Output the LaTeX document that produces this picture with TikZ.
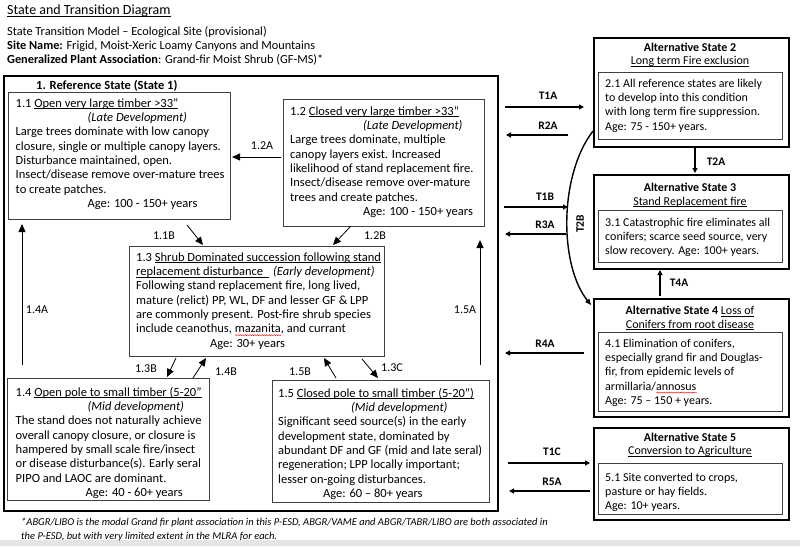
\documentclass[tikz,border=0pt]{standalone}
\usepackage{fontspec}
\setmainfont{Carlito}
\usetikzlibrary{arrows.meta,decorations.pathmorphing}
\newlength\ullen
\newcommand\ul[1]{\settowidth\ullen{#1}\rlap{\rule[-1.7pt]{\ullen}{0.6pt}}#1}
\newcommand\redwave[1]{\settowidth\ullen{#1}\rlap{\raisebox{-3.2pt}{\tikz\draw[red,line width=0.4pt,decorate,decoration={snake,amplitude=0.55pt,segment length=2.4pt}] (0pt,0pt) -- (\ullen,0pt);}}#1}
\tikzset{
  sbox/.style={draw=black, line width=2.4pt, inner sep=0pt, anchor=north west},
  ibox/.style={draw=black!75, line width=0.9pt, inner sep=0pt, anchor=north west},
  txt/.style={anchor=north west, inner sep=0pt, align=left, font=\fontsize{12.5}{14.3}\selectfont},
  rtxt/.style={anchor=north west, inner sep=0pt, align=left, font=\fontsize{12}{14.3}\selectfont},
  rhead/.style={inner sep=0pt, align=center, font=\fontsize{12}{13.6}\selectfont},
  lab/.style={inner sep=0pt, font=\fontsize{12}{14}\selectfont},
  tlab/.style={inner sep=0pt, font=\bfseries\fontsize{11.5}{13}\selectfont},
  parr/.style={line width=0.8pt, -{Triangle[length=8pt,width=7pt]}},
  tarr/.style={line width=1.8pt, -{Triangle[length=5pt,width=5pt]}},
}
\begin{document}
\begin{tikzpicture}[x=1pt,y=-1pt]
\useasboundingbox (0,0) rectangle (800,546);
\fill[white] (0,0) rectangle (800,546);
\fill[black!10] (0,540) rectangle (800,546);

% header
\node[anchor=west, inner sep=0pt, font=\fontsize{14}{16}\selectfont] (title) at (7,11) {\ul{State and Transition Diagram}};
\node[anchor=north west, inner sep=0pt, align=left, font=\fontsize{12.3}{14}\selectfont] (hdr) at (7,25)
  {\strut State Transition Model -- Ecological Site (provisional)\\
   \textbf{Site Name:} Frigid, Moist-Xeric Loamy Canyons and Mountains\\
   \textbf{Generalized Plant Association}: Grand-fir Moist Shrub (GF-MS)*};

% reference state
\node[sbox, minimum width=494pt, minimum height=435pt] (s1) at (3,75) {};
\node[anchor=west, inner sep=0pt, font=\bfseries\fontsize{12.5}{14}\selectfont] (s1t) at (36,86) {1. Reference State (State 1)};

\node[ibox, minimum width=222pt, minimum height=127pt] (b11) at (8,92) {};
\node[txt] (t11) at (15.5,97) {\strut 1.1 \ul{Open very large timber >33”}\\
\hspace*{72pt}\textit{(Late Development)}\\
Large trees dominate with low canopy\\
closure, single or multiple canopy layers.\\
Disturbance maintained, open.\\
Insect/disease remove over-mature trees\\
to create patches.\\
\hspace*{72pt}Age: 100 - 150+ years};

\node[ibox, minimum width=201pt, minimum height=127pt] (b12) at (283,99) {};
\node[txt] (t12) at (290,105) {\strut 1.2 \ul{Closed very large timber >33”}\\
\hspace*{73pt}\textit{(Late Development)}\\
Large trees dominate, multiple\\
canopy layers exist. Increased\\
likelihood of stand replacement fire.\\
Insect/disease remove over-mature\\
trees and create patches.\\
\hspace*{73pt}Age: 100 - 150+ years};

\node[ibox, minimum width=255pt, minimum height=110pt] (b13) at (129,246) {};
\node[txt] (t13) at (136,251) {\strut 1.3 \ul{Shrub Dominated succession following stand}\\
\makebox[137pt][l]{\ul{replacement disturbance\ \ }}\textit{(Early development)}\\
Following stand replacement fire, long lived,\\
mature (relict) PP, WL, DF and lesser GF \& LPP\\
are commonly present. Post-fire shrub species\\
include ceanothus, \redwave{mazanita}, and currant\\
\hspace*{74pt}Age: 30+ years};

\node[ibox, minimum width=202pt, minimum height=122pt] (b14) at (7,378) {};
\node[txt] (t14) at (15.5,386) {\strut 1.4 \ul{Open pole to small timber (5-20”}\\
\hspace*{72pt}\textit{(Mid development)}\\
The stand does not naturally achieve\\
overall canopy closure, or closure is\\
hampered by small scale fire/insect\\
or disease disturbance(s). Early seral\\
PIPO and LAOC are dominant.\\
\hspace*{70pt}Age: 40 - 60+ years};

\node[ibox, minimum width=217pt, minimum height=122pt] (b15) at (272,380) {};
\node[txt] (t15) at (278,387) {\strut 1.5 \ul{Closed pole to small timber (5-20”)}\\
\hspace*{73pt}\textit{(Mid development)}\\
Significant seed source(s) in the early\\
development state, dominated by\\
abundant DF and GF (mid and late seral)\\
regeneration; LPP locally important;\\
lesser on-going disturbances.\\
\hspace*{45pt}Age: 60 -- 80+ years};

% pathway arrows
\coordinate (p12a) at (281,157); \coordinate (p12b) at (232,157);
\draw[parr] (p12a) -- (p12b);
\node[lab] (l12a) at (262,146) {1.2A};
\coordinate (p11a) at (187,225); \coordinate (p11b) at (203,245);
\draw[parr] (p11a) -- (p11b);
\node[lab] (l11b) at (164,236) {1.1B};
\coordinate (p2ba) at (350,227); \coordinate (p2bb) at (333,245);
\draw[parr] (p2ba) -- (p2bb);
\node[lab] (l12b) at (375,236) {1.2B};
\coordinate (p3ba) at (176,358); \coordinate (p3bb) at (167,377);
\draw[parr] (p3ba) -- (p3bb);
\node[lab] (l13b) at (146,369) {1.3B};
\coordinate (p4ba) at (193,378); \coordinate (p4bb) at (206,358);
\draw[parr] (p4ba) -- (p4bb);
\node[lab] (l14b) at (226,372) {1.4B};
\coordinate (p5ba) at (336,378); \coordinate (p5bb) at (324,358);
\draw[parr] (p5ba) -- (p5bb);
\node[lab] (l15b) at (300,372) {1.5B};
\coordinate (p3ca) at (362,359); \coordinate (p3cb) at (378,378);
\draw[parr] (p3ca) -- (p3cb);
\node[lab] (l13c) at (392,368) {1.3C};
\coordinate (p4aa) at (22,365); \coordinate (p4ab) at (22,224);
\draw[parr] (p4aa) -- (p4ab);
\node[lab] (l14a) at (37,310) {1.4A};
\coordinate (p5aa) at (480,365); \coordinate (p5ab) at (480,240);
\draw[parr] (p5aa) -- (p5ab);
\node[lab] (l15a) at (465,310) {1.5A};

% alternative states
\node[sbox, minimum width=195pt, minimum height=109pt] (a2) at (593,37) {};
\node[rhead] (a2h) at (690,55) {\textbf{Alternative State 2}\\\ul{Long term Fire exclusion}};
\node[ibox, minimum width=184pt, minimum height=67pt] (a2i) at (598,72) {};
\node[rtxt] (a2t) at (605,77) {\strut 2.1 All reference states are likely\\
to develop into this condition\\
with long term fire suppression.\\
Age: 75 - 150+ years.};

\node[sbox, minimum width=195pt, minimum height=94pt] (a3) at (593,174) {};
\node[rhead] (a3h) at (690,195) {\textbf{Alternative State 3}\\\ul{Stand Replacement fire}};
\node[ibox, minimum width=184pt, minimum height=52pt] (a3i) at (598,210) {};
\node[rtxt] (a3t) at (605,216) {\strut 3.1 Catastrophic fire eliminates all\\
conifers; scarce seed source, very\\
slow recovery. Age: 100+ years.};

\node[sbox, minimum width=195pt, minimum height=118pt] (a4) at (593,298) {};
\node[rhead] (a4h) at (690,318) {\textbf{Alternative State 4} \ul{Loss of}\\\ul{Conifers from root disease}};
\node[ibox, minimum width=184pt, minimum height=79pt] (a4i) at (598,332) {};
\node[rtxt] (a4t) at (605,337) {\strut 4.1 Elimination of conifers,\\
especially grand fir and Douglas-\\
fir, from epidemic levels of\\
armillaria/\redwave{annosus}\\
Age: 75 -- 150 + years.};

\node[sbox, minimum width=195pt, minimum height=92pt] (a5) at (593,427) {};
\node[rhead] (a5h) at (690,445) {\textbf{Alternative State 5}\\\ul{Conversion to Agriculture}};
\node[ibox, minimum width=184pt, minimum height=51pt] (a5i) at (598,463) {};
\node[rtxt] (a5t) at (605,471) {\strut 5.1 Site converted to crops,\\
pasture or hay fields.\\
Age: 10+ years.};

% transitions
\coordinate (t1aa) at (505,107); \coordinate (t1ab) at (584,107);
\draw[tarr] (t1aa) -- (t1ab);
\node[tlab] (lt1a) at (548,96) {T1A};
\coordinate (r2aa) at (568,135); \coordinate (r2ab) at (506,135);
\draw[tarr] (r2aa) -- (r2ab);
\node[tlab] (lr2a) at (548,126) {R2A};
\coordinate (t1ba) at (504,207); \coordinate (t1bb) at (568,207);
\draw[tarr] (t1ba) -- (t1bb);
\node[tlab] (lt1b) at (545,197) {T1B};
\coordinate (r3aa) at (566,234); \coordinate (r3ab) at (505,234);
\draw[tarr] (r3aa) -- (r3ab);
\node[tlab] (lr3a) at (545,225) {R3A};
\coordinate (r4aa) at (584,353); \coordinate (r4ab) at (505,353);
\draw[tarr] (r4aa) -- (r4ab);
\node[tlab] (lr4a) at (545,344) {R4A};
\coordinate (t1ca) at (508,463); \coordinate (t1cb) at (590,463);
\draw[tarr] (t1ca) -- (t1cb);
\node[tlab] (lt1c) at (552,452) {T1C};
\coordinate (r5aa) at (590,491); \coordinate (r5ab) at (509,491);
\draw[tarr] (r5aa) -- (r5ab);
\node[tlab] (lr5a) at (552,482) {R5A};
\coordinate (t2aa) at (695,148); \coordinate (t2ab) at (695,173);
\draw[tarr] (t2aa) -- (t2ab);
\node[tlab] (lt2a) at (716,162) {T2A};
\coordinate (t4aa) at (660,296); \coordinate (t4ab) at (660,270);
\draw[tarr] (t4aa) -- (t4ab);
\node[tlab] (lt4a) at (679,283) {T4A};
\coordinate (t2ba) at (593,131); \coordinate (t2bb) at (591,305);
\draw[line width=1.4pt, -{Triangle[length=6pt,width=5pt]}] (t2ba) .. controls (559,175) and (559,265) .. (t2bb);
\node[tlab, rotate=90] (lt2b) at (580,224) {T2B};

% footnote
\node[anchor=north west, inner sep=0pt, align=left, font=\itshape\fontsize{10.5}{14.5}\selectfont] (fn) at (21,515)
 {\strut *ABGR/LIBO is the modal Grand fir plant association in this P-ESD, ABGR/VAME and ABGR/TABR/LIBO are both associated in\\
 the P-ESD, but with very limited extent in the MLRA for each.};
\end{tikzpicture}
\end{document}
